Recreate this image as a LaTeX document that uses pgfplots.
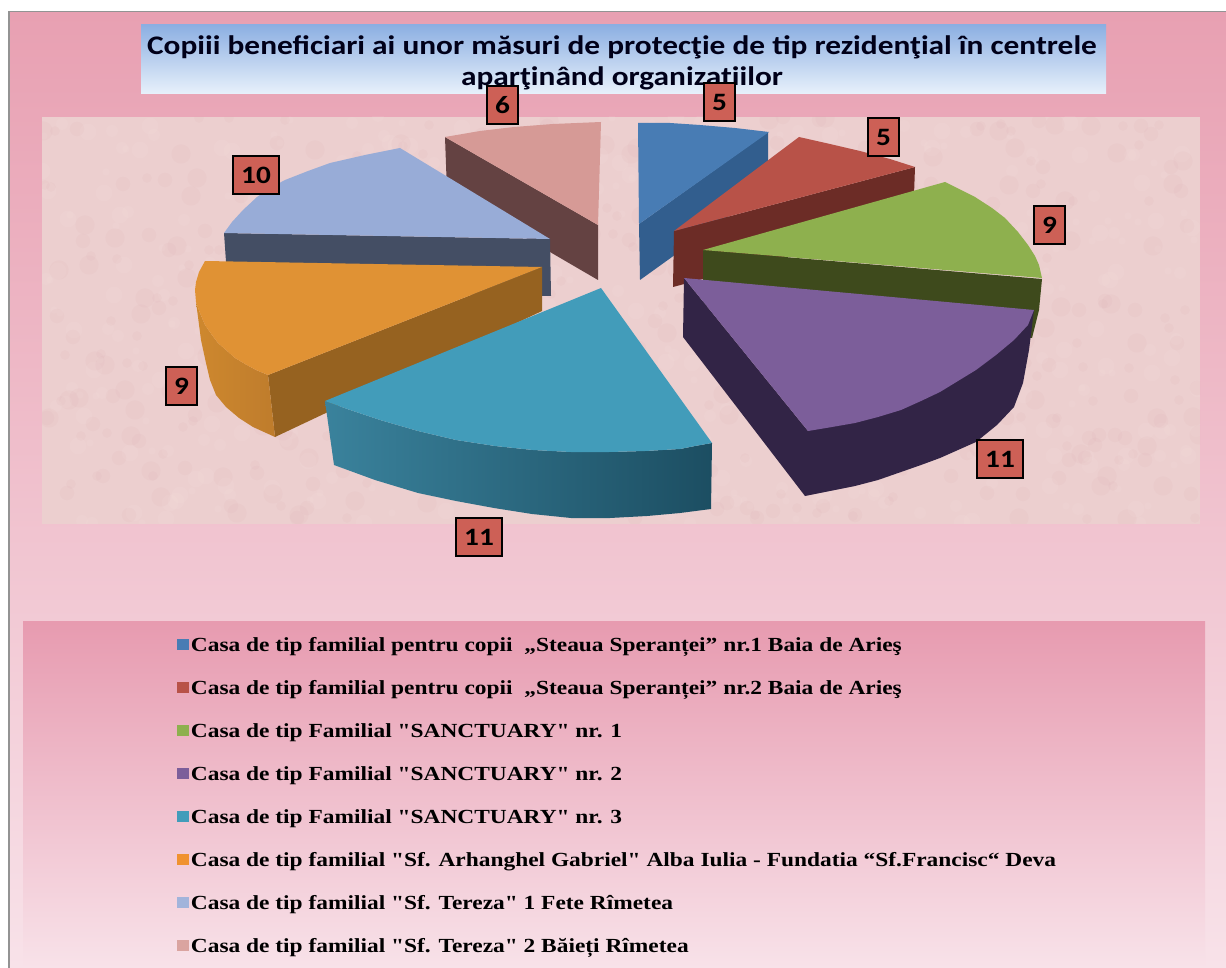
\documentclass[border=0pt]{standalone}
\usepackage{pgfplots}
\pgfplotsset{compat=1.18}
\usepackage{fontspec}
\setmainfont{Liberation Serif}
\newfontfamily\legfont[FakeStretch=1.17]{Liberation Serif}
\newfontfamily\titfont[FakeStretch=1.17]{Carlito}
\definecolor{cBlue}{RGB}{72,124,180}\definecolor{cBlueS}{RGB}{50,94,142}
\definecolor{cRed}{RGB}{184,82,72}\definecolor{cRedS}{RGB}{108,44,38}
\definecolor{cGreen}{RGB}{142,176,78}\definecolor{cGreenS}{RGB}{62,74,28}
\definecolor{cPurple}{RGB}{124,94,154}\definecolor{cPurpleS}{RGB}{50,36,70}
\definecolor{cTeal}{RGB}{66,156,186}\definecolor{cTealL}{RGB}{58,130,156}\definecolor{cTealR}{RGB}{28,78,98}
\definecolor{cOrange}{RGB}{224,146,52}\definecolor{cOrangeS}{RGB}{150,98,32}\definecolor{cOrangeR}{RGB}{206,136,46}
\definecolor{cOrangeK}{RGB}{240,146,48}
\definecolor{cLight}{RGB}{152,172,215}\definecolor{cLightS}{RGB}{68,78,100}
\definecolor{cRose}{RGB}{214,154,150}\definecolor{cRoseS}{RGB}{100,66,66}
\definecolor{cBox}{RGB}{205,96,86}
\definecolor{cPanel}{RGB}{236,207,207}
\definecolor{cSpotD}{RGB}{218,170,176}
\definecolor{cSpotL}{RGB}{248,232,228}
\pgfplotsset{
 piece/.style={draw=none,forget plot,no markers},
 sq/.style={legend image code/.code={\fill[#1] (0pt,-1pt) rectangle (5.6pt,4pt);}},
}
\newcommand\imod[2]{\the\numexpr(#1)-(#2)*(((#1)-(#2)/2)/(#2))\relax}
\begin{document}
\begin{tikzpicture}
% page (1 image pixel = 0.5pt; y measured from the top)
\fill[white] (0pt,0pt) rectangle (613pt,484pt);
\fill[gray!85] (4pt,0pt) rectangle (613pt,478.5pt);
\shade[top color={rgb,255:red,232;green,160;blue,178},bottom color={rgb,255:red,248;green,226;blue,233}] (5pt,0pt) rectangle (613pt,477.5pt);
\fill[cPanel] (21pt,222pt) rectangle (600pt,425.5pt);
\begin{scope}
\clip (21pt,222pt) rectangle (600pt,425.5pt);
\foreach \i in {1,...,1000}{
  \edef\px{\the\numexpr 40+\imod{\i*379}{1160}\relax}
  \edef\py{\the\numexpr 116+\imod{\i*\i/7+\i*212}{410}\relax}
  \edef\pr{\the\numexpr 3+\imod{\i*7}{6}\relax}
  \ifodd\i\def\spot{cSpotD}\else\def\spot{cSpotL}\fi
  \fill[\spot,fill opacity=0.1] (\px*0.5pt,484pt-\py*0.5pt) circle[radius=\pr*0.6pt];
}
\end{scope}
\shade[top color={rgb,255:red,231;green,155;blue,176},bottom color={rgb,255:red,248;green,226;blue,233}] (11.5pt,0pt) rectangle (602.5pt,173pt);
\begin{axis}[
 scale only axis,width=613pt,height=484pt,
 xmin=0,xmax=1226,ymin=0,ymax=968,y dir=reverse,
 hide axis,clip=false,
 legend cell align=left,
 legend style={at={(axis cs:176.5,635)},anchor=north west,draw=none,fill=none,
   row sep=10pt,inner sep=0pt,
   /tikz/every even column/.style={column sep=4.5pt},
   nodes={font=\legfont\bfseries\fontsize{10}{10.5}\selectfont,text height=7pt,text depth=2.5pt,inner sep=1pt}},
]
% rose
\addplot[piece,fill=cRoseS] coordinates {(445,137)(598,225)(598,280)(447,192)} --cycle;
\addplot[piece,fill=cRose] coordinates {(445,137)(480,131)(514,127)(553,124)(601,122)(598,225)} --cycle;
% blue
\addplot[piece,fill=cBlueS] coordinates {(768,132)(639,224)(640,280)(768,188)} --cycle;
\addplot[piece,fill=cBlue] coordinates {(638,123)(670,123)(700,125)(735,128)(769,132)(639,224)} --cycle;
% red
\addplot[piece,fill=cRedS] coordinates {(674,231)(915,167)(913,223)(673,287)} --cycle;
\addplot[piece,fill=cRed] coordinates {(674,231)(799,137)(830,144)(860,151)(890,159)(915,167)} --cycle;
% light blue
\addplot[piece,fill=cLightS] coordinates {(224,233)(550,239)(551,296)(228,290)} --cycle;
\addplot[piece,fill=cLight] coordinates {(224,233)(232,222)(243,210)(257,197)(270,188)(285,180)(308,171)(330,163)(365,155)(400,148)(550,239)} --cycle;
% green
\addplot[piece,fill=cGreenS] coordinates {(703,250)(1042,279)(1039,310)(1032,338)(703,306)} --cycle;
\addplot[piece,fill=cGreen] coordinates {(703,250)(945,182)(975,197)(992,208)(1005,218)(1018,232)(1028,245)(1035,256)(1039,265)(1042,278)} --cycle;
% orange
\addplot[piece,fill=cOrangeS] coordinates {(542,267)(268,375)(275,437)(542,311)} --cycle;
\addplot[piece,left color=cOrangeR,right color=cOrange!85!black] coordinates {(196,302)(200,313)(205,325)(212,335)(218,343)(226,350)(235,358)(245,364)(256,370)(268,375)(275,437)(264,432)(253,427)(239,418)(226,407)(216,395)(210,380)(206,363)(201,340)(198,317)} --cycle;
\addplot[piece,fill=cOrange] coordinates {(542,267)(205,261)(199,272)(196,282)(195,290)(196,302)(200,313)(205,325)(212,335)(218,343)(226,350)(235,358)(245,364)(256,370)(268,375)} --cycle;
% purple
\addplot[piece,fill=cPurpleS] coordinates {(684,278)(808,431)(1034,310)(1029,350)(1023,383)(1014,407)(997,425)(976,442)(958,450)(940,458)(921,465)(901,472)(878,480)(855,486)(830,491)(805,496)(683,337)} --cycle;
\addplot[piece,fill=cPurple] coordinates {(684,278)(1034,310)(1028,325)(1014,340)(996,355)(976,370)(958,381)(940,392)(921,401)(901,410)(878,417)(855,423)(832,427)(808,431)} --cycle;
% teal
\addplot[piece,left color=cTealL,right color=cTealR] coordinates {(325,401)(350,410)(380,420)(418,431)(456,440)(495,446)(533,450)(571,452)(609,452)(645,451)(680,449)(695,446)(712,443)(711,509)(680,513)(647,516)(610,518)(571,518)(532,514)(494,508)(456,501)(418,493)(375,480)(334,465)} --cycle;
\addplot[piece,fill=cTeal] coordinates {(601,288)(712,443)(695,446)(680,449)(645,451)(609,452)(571,452)(533,450)(495,446)(456,440)(418,431)(380,420)(350,410)(325,401)} --cycle;
% data labels
\addplot[forget plot,only marks,mark=none,
  nodes near coords,point meta=explicit symbolic,
  every node near coord/.append style={anchor=center,fill=cBox,draw=black,line width=1pt,
    font=\titfont\bfseries\fontsize{12.5}{13}\selectfont,minimum height=19pt,inner xsep=4pt,inner ysep=0pt,text=black}]
 table[meta=v] {
 x y v
 719.5 102 5
 883.5 137 5
 1049.5 225 9
 1000 459 11
 479 537 11
 181.5 386 9
 256 175 10
 502.5 105 6
 };
% title
\addplot[piece,top color={rgb,255:red,140;green,175;blue,226},bottom color={rgb,255:red,232;green,241;blue,251}] coordinates {(141,25)(1106,25)(1106,94)(141,94)} --cycle;
\node[align=center,font=\titfont\bfseries\fontsize{13.4}{15.5}\selectfont,text=black!90!blue] at (axis cs:622,62.5) {Copiii beneficiari ai unor măsuri de protecţie de tip rezidenţial în centrele\\aparţinând organizaţiilor};
% legend
\addlegendimage{sq={cBlue}}\addlegendentry{Casa de tip familial pentru copii\ \ „Steaua Speranței” nr.1 Baia de Arieş}
\addlegendimage{sq={cRed}}\addlegendentry{Casa de tip familial pentru copii\ \ „Steaua Speranței” nr.2 Baia de Arieş}
\addlegendimage{sq={cGreen}}\addlegendentry{Casa de tip Familial "SANCTUARY" nr. 1}
\addlegendimage{sq={cPurple}}\addlegendentry{Casa de tip Familial "SANCTUARY" nr. 2}
\addlegendimage{sq={cTeal}}\addlegendentry{Casa de tip Familial "SANCTUARY" nr. 3}
\addlegendimage{sq={cOrangeK}}\addlegendentry{Casa de tip familial "Sf. Arhanghel Gabriel" Alba Iulia - Fundatia “Sf.Francisc“ Deva}
\addlegendimage{sq={cLight!90!white}}\addlegendentry{Casa de tip familial "Sf. Tereza" 1 Fete Rîmetea}
\addlegendimage{sq={cRose!90!white}}\addlegendentry{Casa de tip familial "Sf. Tereza" 2 Băieți Rîmetea}
\end{axis}
\end{tikzpicture}
\end{document}
